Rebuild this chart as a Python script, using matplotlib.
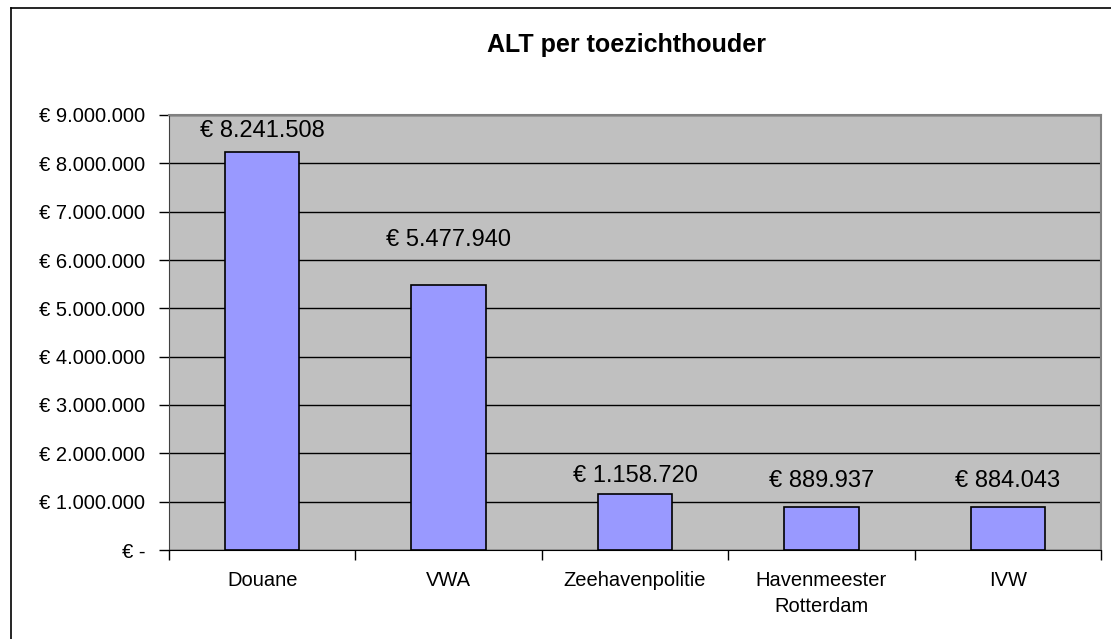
import matplotlib.pyplot as plt
from matplotlib.lines import Line2D

plt.rcParams['font.family'] = ['Liberation Sans', 'DejaVu Sans']

categories = ['Douane', 'VWA', 'Zeehavenpolitie', 'Havenmeester\nRotterdam', 'IVW']
values = [8241508, 5477940, 1158720, 889937, 884043]
ytick_values = [0, 1000000, 2000000, 3000000, 4000000, 5000000,
                6000000, 7000000, 8000000, 9000000]

# gap (points) between bar top and label baseline, as placed in the original
label_gaps = [10.8, 28, 8.6, 14.4, 14.4]


def euro(v):
    if v == 0:
        return '€ -'
    return '€ ' + f'{v:,.0f}'.replace(',', '.')


fig = plt.figure(figsize=(11.11, 6.39), dpi=100)
ax = fig.add_axes([169 / 1111, 1 - 550 / 639, 932 / 1111, 435 / 639])
ax.set_facecolor('#C0C0C0')

x = list(range(len(categories)))
ax.bar(x, values, width=0.4, color='#9999FF', edgecolor='black', linewidth=1.2, zorder=3)

for xi, v, g in zip(x, values, label_gaps):
    ax.annotate(euro(v), (xi, v), xytext=(0, g), textcoords='offset points',
                ha='center', va='baseline', fontsize=17, zorder=4)

ax.set_xlim(-0.5, len(categories) - 0.5)
ax.set_ylim(0, 9000000)
ax.set_yticks(ytick_values)
ax.set_yticklabels([euro(v) for v in ytick_values], fontsize=14.5)
ax.yaxis.grid(True, color='black', linewidth=1)
ax.set_axisbelow(True)

# ticks at category boundaries, labels at centres
ax.set_xticks([i - 0.5 for i in range(len(categories) + 1)])
ax.set_xticklabels([])
ax.set_xticks(x, minor=True)
ax.set_xticklabels(categories, minor=True, fontsize=14.5, linespacing=1.45)
ax.tick_params(axis='x', which='major', length=7, width=1, direction='out')
ax.tick_params(axis='x', which='minor', length=0, pad=15)
ax.tick_params(axis='y', length=7, width=1, pad=10)

for side in ['top', 'right']:
    ax.spines[side].set_color('#808080')
    ax.spines[side].set_linewidth(1.5)
ax.spines['left'].set_color('#404040')
ax.spines['bottom'].set_color('black')

fig.text(627 / 1111, 1 - 45 / 639, 'ALT per toezichthouder', ha='center', va='center',
         fontsize=18, fontweight='bold')

# chart area border (left and top edges visible)
fig.add_artist(Line2D([11 / 1111, 11 / 1111], [0, 1 - 8 / 639], color='black',
                      linewidth=1.2, transform=fig.transFigure))
fig.add_artist(Line2D([11 / 1111, 1], [1 - 8 / 639, 1 - 8 / 639], color='black',
                      linewidth=1.2, transform=fig.transFigure))

fig.savefig('out.png', dpi=100)
